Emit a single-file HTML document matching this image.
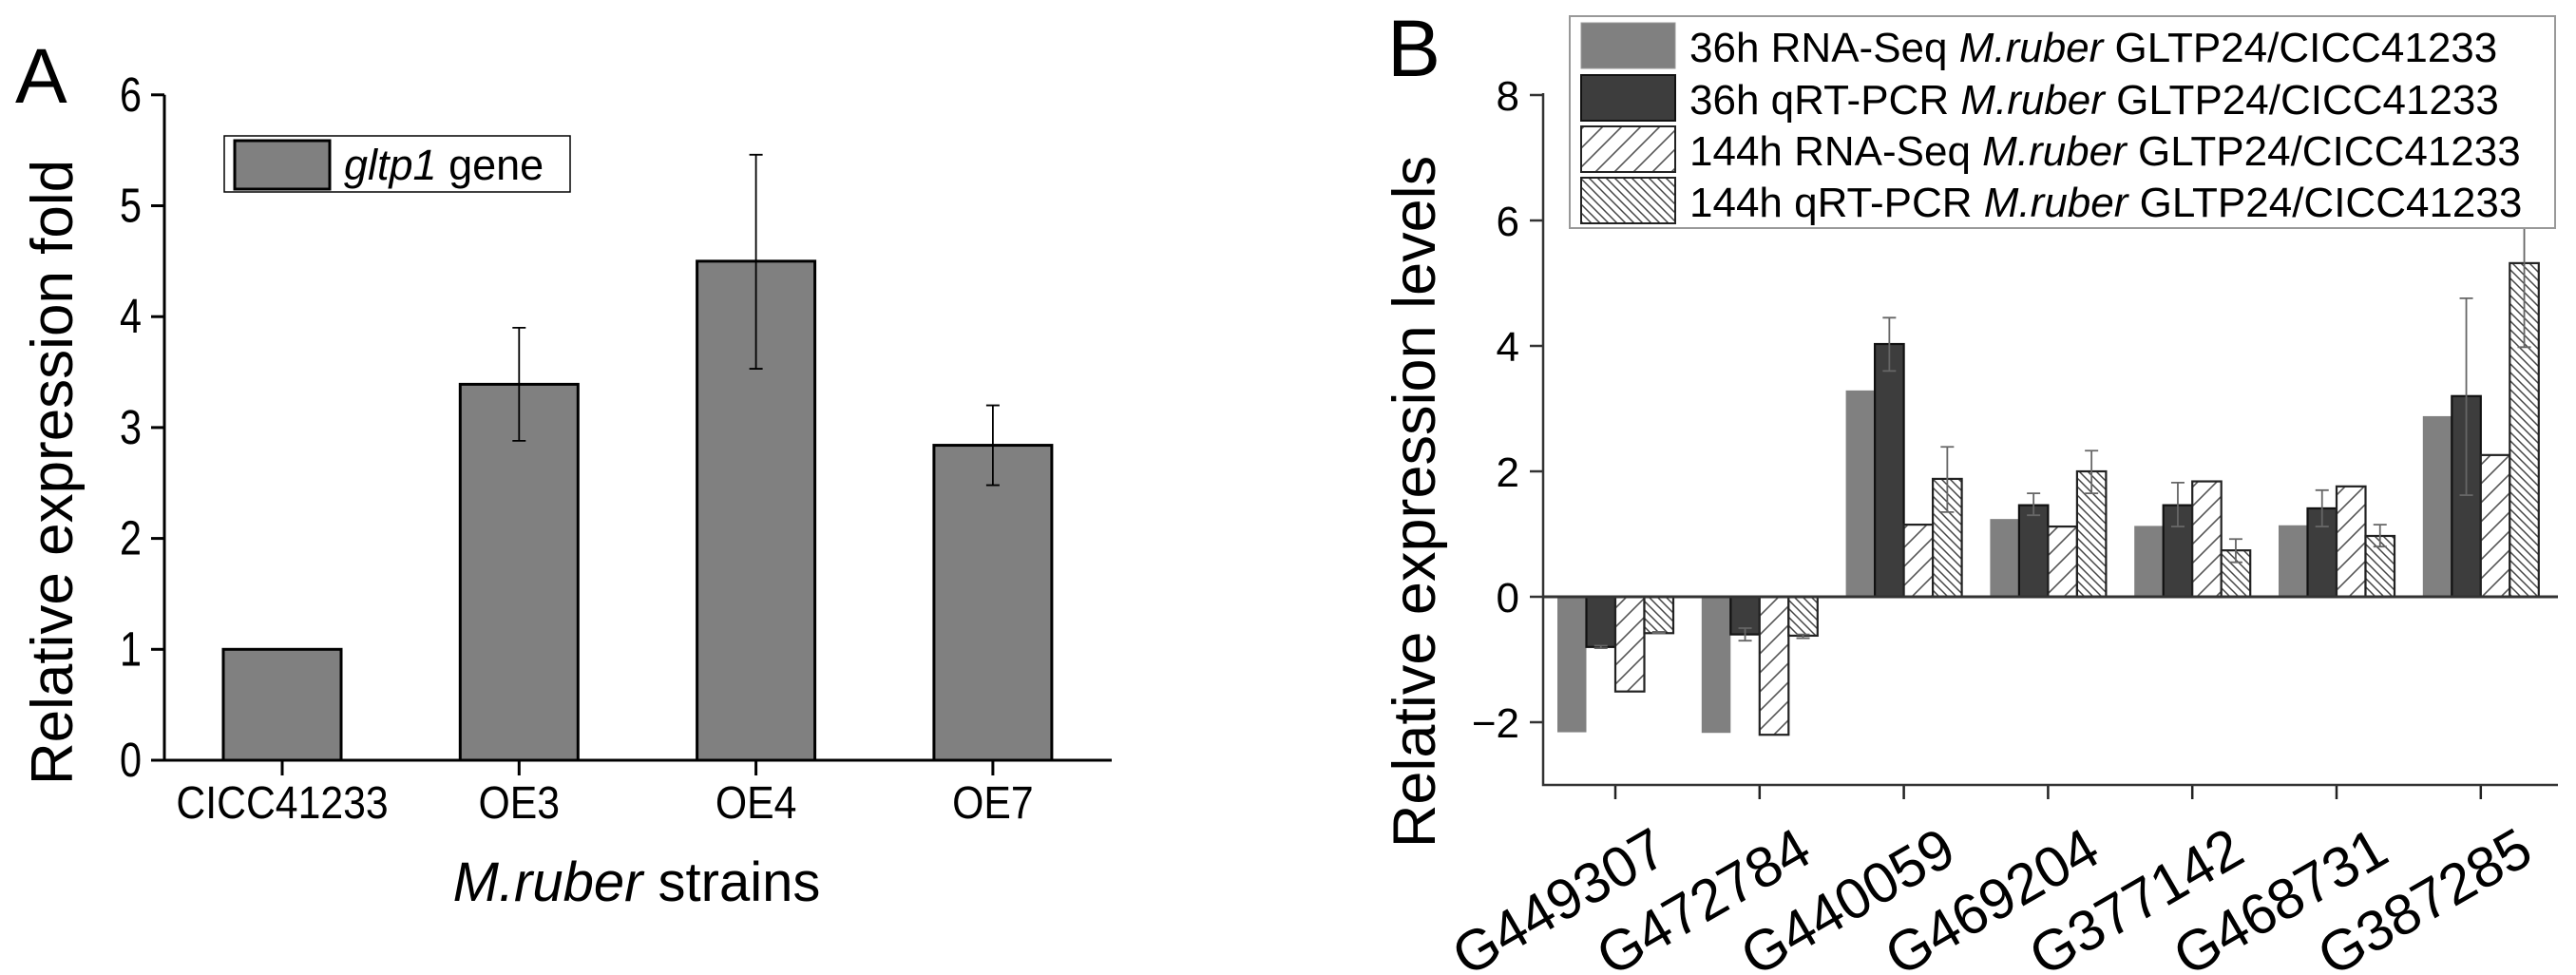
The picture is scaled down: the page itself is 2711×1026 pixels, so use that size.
<!DOCTYPE html>
<html><head><meta charset="utf-8">
<style>
html,body{margin:0;padding:0;background:#fff;}
svg{display:block;font-family:"Liberation Sans",Arial,sans-serif;}
</style></head>
<body>
<svg id="fig" width="2711" height="1026" viewBox="0 0 2711 1026" xmlns="http://www.w3.org/2000/svg">
<defs>
<pattern id="hatchF" patternUnits="userSpaceOnUse" width="20" height="20">
<path d="M-5,25 L25,-5 M-5,5 L5,-5 M15,25 L25,15" stroke="#555" stroke-width="1.6"/>
</pattern>
<pattern id="hatchB" patternUnits="userSpaceOnUse" width="9" height="9">
<path d="M-3,-3 L12,12 M-3,6 L3,12 M6,-3 L12,3" stroke="#444" stroke-width="1.5"/>
</pattern>
</defs>
<g id="panelA"></g>
<g id="panelB"></g>
</svg>
<script>
// ---------- Panel A data ----------
const catsA = ["CICC41233","OE3","OE4","OE7"];
const valsA = [1.0, 3.39, 4.5, 2.84];
const errLoA = [null, 2.88, 3.53, 2.48];
const errHiA = [null, 3.9, 5.46, 3.2];
const ticksA = [0,1,2,3,4,5,6];

// ---------- Panel B data ----------
const catsB = ["G449307","G472784","G440059","G469204","G377142","G468731","G387285"];
const seriesNamesB = ["36h RNA-Seq","36h qRT-PCR","144h RNA-Seq","144h qRT-PCR"];
const rnaSeq36 = [-2.16,-2.17,3.29,1.24,1.13,1.14,2.88];
const qpcr36 = [-0.8,-0.6,4.03,1.46,1.46,1.41,3.2];
const qpcr36Lo = [-0.82,-0.7,3.6,1.3,1.12,1.12,1.62];
const qpcr36Hi = [-0.78,-0.5,4.45,1.65,1.82,1.7,4.76];
const rnaSeq144 = [-1.51,-2.2,1.15,1.12,1.84,1.76,2.26];
const qpcr144 = [-0.58,-0.62,1.88,2.0,0.74,0.97,5.32];
const qpcr144Lo = [-0.58,-0.66,1.35,1.65,0.55,0.8,3.98];
const qpcr144Hi = [-0.56,-0.6,2.39,2.33,0.92,1.15,6.0];
const ticksB = [-2,0,2,4,6,8];

const NS="http://www.w3.org/2000/svg";
function mk(parent, tag, attrs, text){
  const e=document.createElementNS(NS,tag);
  for(const k in attrs) e.setAttribute(k,attrs[k]);
  if(text!==undefined) e.textContent=text;
  parent.appendChild(e); return e;
}

// ================= Panel A =================
(function(){
  const g=document.getElementById('panelA');
  const x0=173, xEnd=1170, yZero=800, unit=116.7;
  const y=v=>yZero-v*unit;
  const cx=i=>297+i*249.3;
  const bw=124;
  let t=mk(g,'text',{x:16,y:108,'font-size':82});
  t.textContent='A';
  
  
  let ax=mk(g,'path',{d:`M${x0},${y(6)} L${x0},${yZero} L${xEnd},${yZero}`,fill:'none',stroke:'#000','stroke-width':3});
  
  
  ticksA.forEach(v=>{
    const tk=mk(g,'line',{x1:x0-14,x2:x0,y1:y(v),y2:y(v),stroke:'#000','stroke-width':3});
    
    
    const lb=mk(g,'text',{x:0,y:0,'font-size':46,'text-anchor':'end',transform:`translate(149,${y(v)+17}) scale(0.9,1.1)`},String(v));
    
    
  });
  catsA.forEach((c,i)=>{
    const b=mk(g,'rect',{x:cx(i)-bw/2,y:y(valsA[i]),width:bw,height:valsA[i]*unit,fill:'#808080',stroke:'#000','stroke-width':3});
    
    
    if(errHiA[i]!==null){
      const e=mk(g,'path',{d:`M${cx(i)},${y(errLoA[i])} L${cx(i)},${y(errHiA[i])} M${cx(i)-7},${y(errHiA[i])} L${cx(i)+7},${y(errHiA[i])} M${cx(i)-7},${y(errLoA[i])} L${cx(i)+7},${y(errLoA[i])}`,stroke:'#000','stroke-width':1.8,fill:'none'});
      
      
    }
    const tk=mk(g,'line',{x1:cx(i),x2:cx(i),y1:yZero,y2:yZero+16,stroke:'#000','stroke-width':3});
    
    
    const lb=mk(g,'text',{x:0,y:0,'font-size':45,'text-anchor':'middle',transform:`translate(${cx(i)},861) scale(0.95,1.08)`},c);
    
    
  });
  const xt=mk(g,'text',{x:670,y:948,'font-size':58,'text-anchor':'middle'});
  xt.innerHTML='<tspan font-style="italic">M.ruber</tspan> strains';
  
  
  const yt=mk(g,'text',{x:0,y:0,'font-size':62,'text-anchor':'middle',transform:'translate(76,497) rotate(-90)'},'Relative expression fold');
  
  
  const lg=mk(g,'g',{});
  
  
  mk(lg,'rect',{x:236,y:143,width:364,height:59,fill:'#fff',stroke:'#000','stroke-width':1.5});
  mk(lg,'rect',{x:247,y:148,width:100,height:51,fill:'#808080',stroke:'#000','stroke-width':3});
  const lt=mk(lg,'text',{x:362,y:189,'font-size':45});
  lt.innerHTML='<tspan font-style="italic">gltp1</tspan> gene';
})();

// ================= Panel B =================
(function(){
  const g=document.getElementById('panelB');
  const x0=1624, xEnd=2692, yZero=628, unit=66, yBot=826;
  const y=v=>yZero-v*unit;
  const cx=i=>1700+i*151.8;
  const bw=30.5;
  let t=mk(g,'text',{x:1460,y:80,'font-size':84},'B');
  
  
  const styles=[
    {fill:'#808080',stroke:'none'},
    {fill:'#3d3d3d',stroke:'#111'},
    {fill:'url(#hatchF)',stroke:'#222'},
    {fill:'url(#hatchB)',stroke:'#222'}
  ];
  const series=[rnaSeq36,qpcr36,rnaSeq144,qpcr144];
  const errs=[null,[qpcr36Lo,qpcr36Hi],null,[qpcr144Lo,qpcr144Hi]];
  const bars=mk(g,'g',{});
  catsB.forEach((c,i)=>{
    series.forEach((s,k)=>{
      const v=s[i];
      const bx=cx(i)-2*bw+k*bw;
      const top=Math.min(y(v),yZero), h=Math.abs(v)*unit;
      const st=styles[k];
      if(k>=2) mk(bars,'rect',{x:bx,y:top,width:bw,height:h,fill:'#fff'});
      const b=mk(bars,'rect',{x:bx,y:top,width:bw,height:h,fill:st.fill,stroke:st.stroke,'stroke-width':2.2});
      
      
      if(errs[k]){
        const lo=errs[k][0][i], hi=errs[k][1][i], ex=bx+bw/2;
        const e=mk(bars,'path',{d:`M${ex},${y(lo)} L${ex},${y(hi)} M${ex-7},${y(hi)} L${ex+7},${y(hi)} M${ex-7},${y(lo)} L${ex+7},${y(lo)}`,stroke:'#666','stroke-width':1.8,fill:'none'});
        
        
      }
    });
    const tk=mk(g,'line',{x1:cx(i),x2:cx(i),y1:yBot,y2:yBot+15,stroke:'#222','stroke-width':2.5});
    
    
    const lb=mk(g,'text',{x:0,y:0,'font-size':60,'text-anchor':'end',transform:`translate(${cx(i)+58},905) rotate(-30)`},c);
    
    
  });
  const zl=mk(g,'line',{x1:x0,x2:xEnd,y1:yZero,y2:yZero,stroke:'#333','stroke-width':3});
  
  
  const ax=mk(g,'path',{d:`M${x0},${y(8)-2} L${x0},${yBot} L${xEnd},${yBot}`,fill:'none',stroke:'#333','stroke-width':2.5});
  
  
  ticksB.forEach(v=>{
    const tk=mk(g,'line',{x1:x0-14,x2:x0,y1:y(v),y2:y(v),stroke:'#333','stroke-width':2.5});
    
    
    const lb=mk(g,'text',{x:1599,y:y(v)+16,'font-size':44,'text-anchor':'end'},v<0?'\u2212'+(-v):String(v));
    
    
  });
  const yt=mk(g,'text',{x:0,y:0,'font-size':63,'text-anchor':'middle',transform:'translate(1510,528) rotate(-90)'},'Relative expression levels');
  
  
  const lg=mk(g,'g',{});
  
  
  mk(lg,'rect',{x:1652,y:17,width:1037,height:223,fill:'#fff',stroke:'#999','stroke-width':2});
  const rowsY=[24,79,133,187];
  seriesNamesB.forEach((n,k)=>{
    const st=styles[k];
    if(k>=2) mk(lg,'rect',{x:1664,y:rowsY[k],width:99,height:48,fill:'#fff'});
    const sw=mk(lg,'rect',{x:1664,y:rowsY[k],width:99,height:48,fill:st.fill,stroke:st.stroke==='none'?'#999':st.stroke,'stroke-width':st.stroke==='none'?1:2});
    
    
    const tx=mk(lg,'text',{x:1778,y:rowsY[k]+41,'font-size':44});
    tx.innerHTML=n+' <tspan font-style="italic">M.ruber</tspan> GLTP24/CICC41233';
    
    
  });
})();
</script>
</body></html>
